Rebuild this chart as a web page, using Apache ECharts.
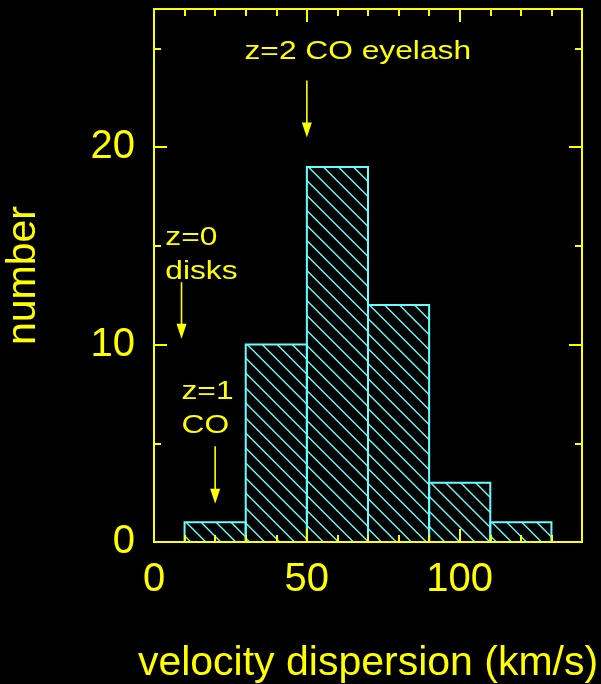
<!DOCTYPE html>
<html>
<head>
<meta charset="utf-8">
<script src="https://cdn.jsdelivr.net/npm/echarts@6/dist/echarts.min.js"></script>
<style>
  html, body { margin: 0; padding: 0; background: #000; }
  #chart { width: 601px; height: 684px; }
</style>
</head>
<body>
<div id="chart"></div>
<script>
// Histogram of velocity dispersions: bin edges (km/s) and counts
const binStart = [10, 30, 50, 70, 90, 110];
const binEnd = [30, 50, 70, 90, 110, 130];
const counts = [1, 10, 19, 12, 3, 1];

// Axis ranges and tick values
const xRange = [0, 140];
const yRange = [0, 27];
const xMajorTicks = [0, 50, 100];
const xMinorTicks = [10, 20, 30, 40, 60, 70, 80, 90, 110, 120, 130];
const yMajorTicks = [0, 10, 20];
const yMinorTicks = [5, 15, 25];

// Annotation text lines, anchored at (velocity, number) data coordinates
const noteLines = ['z=2 CO eyelash', 'z=0', 'disks', 'z=1', 'CO'];
const noteX = [29.6, 3.7, 3.7, 9.0, 9.0];
const noteY = [24.81, 15.39, 13.71, 7.59, 5.86];

// Arrows: x position, start value and tip value on the number axis
const arrowX = [50, 9, 20];
const arrowFrom = [23.38, 13.16, 4.85];
const arrowTo = [20.49, 10.30, 1.94];

const YELLOW = '#ffff00';
const CYAN = '#66ffff';
const FONT = '"Liberation Sans", Arial, Helvetica, sans-serif';

function frameAxis(position, range, ticks, tickLen, extra) {
  return Object.assign({
    type: 'value',
    position: position,
    min: range[0],
    max: range[1],
    z: 10,
    splitLine: { show: false },
    axisLine: { show: true, onZero: false, lineStyle: { color: YELLOW, width: 2 } },
    axisTick: {
      show: true, inside: true, length: tickLen, customValues: ticks,
      lineStyle: { color: YELLOW, width: 2 }
    },
    axisLabel: { show: false }
  }, extra || {});
}

const chart = echarts.init(document.getElementById('chart'), null, { renderer: 'canvas' });

const option = {
  backgroundColor: '#000000',
  animation: false,
  grid: {
    left: 154, top: 9, right: 19, bottom: 142,
    containLabel: false,
    outerBoundsMode: 'none'
  },
  xAxis: [
    frameAxis('bottom', xRange, xMajorTicks, 13, {
      name: 'velocity dispersion (km/s)',
      nameLocation: 'middle',
      nameGap: 101,
      nameTextStyle: { color: YELLOW, fontSize: 41, fontFamily: FONT, lineHeight: 41 },
      axisLabel: {
        show: true, customValues: xMajorTicks, color: YELLOW,
        fontSize: 40, fontFamily: FONT, lineHeight: 40, margin: 18
      }
    }),
    frameAxis('bottom', xRange, xMinorTicks, 7),
    frameAxis('top', xRange, xMajorTicks, 13),
    frameAxis('top', xRange, xMinorTicks, 7)
  ],
  yAxis: [
    frameAxis('left', yRange, yMajorTicks, 13, {
      name: 'number',
      nameLocation: 'middle',
      nameGap: 110,
      nameTextStyle: { color: YELLOW, fontSize: 41, fontFamily: FONT, lineHeight: 41 },
      axisLabel: {
        show: true, customValues: yMajorTicks, color: YELLOW,
        fontSize: 40, fontFamily: FONT, lineHeight: 40, margin: 19
      }
    }),
    frameAxis('left', yRange, yMinorTicks, 7),
    frameAxis('right', yRange, yMajorTicks, 13),
    frameAxis('right', yRange, yMinorTicks, 7)
  ],
  series: [
    {
      // hatched histogram bars
      type: 'custom',
      xAxisIndex: 0,
      yAxisIndex: 0,
      silent: true,
      clip: false,
      z: 2,
      data: binStart.map((s, i) => [s, binEnd[i], counts[i]]),
      encode: { x: [0, 1], y: 2 },
      renderItem: function (params, api) {
        const a = api.coord([api.value(0), 0]);
        const b = api.coord([api.value(1), api.value(2)]);
        const x0 = a[0], x1 = b[0], y0 = b[1], y1 = a[1];
        const step = 15;
        const children = [];
        // hatch lines y = x - k, starting from the bar's top-left corner
        const kTop = x0 - y0 + 1.5;
        let k = kTop - step * Math.ceil((y1 - y0) / step);
        for (; k <= x1 - y0; k += step) {
          const sx = Math.max(x0, y0 + k);
          const ex = Math.min(x1, y1 + k);
          if (ex > sx) {
            children.push({
              type: 'line',
              shape: { x1: sx, y1: sx - k, x2: ex, y2: ex - k },
              style: { stroke: CYAN, lineWidth: 1.4 }
            });
          }
        }
        children.push({
          type: 'rect',
          shape: { x: x0, y: y0, width: x1 - x0, height: y1 - y0 },
          style: { fill: null, stroke: CYAN, lineWidth: 2 }
        });
        return { type: 'group', children: children };
      }
    },
    {
      // downward arrows
      type: 'custom',
      xAxisIndex: 0,
      yAxisIndex: 0,
      silent: true,
      clip: false,
      z: 3,
      data: arrowX.map((x, i) => [x, arrowFrom[i], arrowTo[i]]),
      encode: { x: 0, y: [1, 2] },
      renderItem: function (params, api) {
        const top = api.coord([api.value(0), api.value(1)]);
        const tip = api.coord([api.value(0), api.value(2)]);
        const headLen = 15, headHalf = 5;
        return {
          type: 'group',
          children: [
            {
              type: 'line',
              shape: { x1: top[0], y1: top[1], x2: tip[0], y2: tip[1] - headLen + 1 },
              style: { stroke: YELLOW, lineWidth: 1.6 }
            },
            {
              type: 'polygon',
              shape: {
                points: [
                  [tip[0] - headHalf, tip[1] - headLen],
                  [tip[0] + headHalf, tip[1] - headLen],
                  [tip[0], tip[1]]
                ]
              },
              style: { fill: YELLOW }
            }
          ]
        };
      }
    },
    {
      // annotation text
      type: 'custom',
      xAxisIndex: 0,
      yAxisIndex: 0,
      silent: true,
      clip: false,
      z: 3,
      data: noteLines.map((t, i) => [noteX[i], noteY[i], t]),
      encode: { x: 0, y: 1 },
      renderItem: function (params, api) {
        const p = api.coord([api.value(0), api.value(1)]);
        return {
          type: 'text',
          x: p[0],
          y: p[1],
          scaleX: 1.22,
          style: {
            text: noteLines[params.dataIndex],
            x: 0,
            y: 0,
            fill: YELLOW,
            font: '26px ' + FONT,
            align: 'left',
            verticalAlign: 'middle'
          }
        };
      }
    }
  ]
};

chart.setOption(option);
</script>
</body>
</html>
